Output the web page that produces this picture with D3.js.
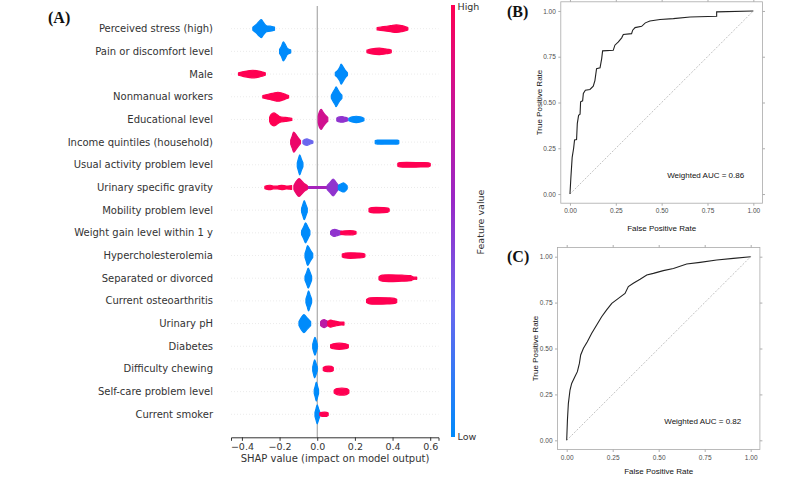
<!DOCTYPE html>
<html><head><meta charset="utf-8">
<script src="https://cdn.jsdelivr.net/npm/d3@7"></script>
<style>
html,body{margin:0;padding:0;background:#fff;}
svg{display:block;}
</style></head>
<body>
<svg id="chart" width="800" height="477"></svg>
<script>
// ---------------- DATA ----------------
const features = [
  "Perceived stress (high)","Pain or discomfort level","Male","Nonmanual workers",
  "Educational level","Income quintiles (household)","Usual activity problem level",
  "Urinary specific gravity","Mobility problem level","Weight gain level within 1 y",
  "Hypercholesterolemia","Separated or divorced","Current osteoarthritis","Urinary pH",
  "Diabetes","Difficulty chewing","Self-care problem level","Current smoker"
];
// per feature: clusters of SHAP values; c = feature value (0 low .. 1 high),
// p = [shap value, relative point density]
const swarmProfiles = [
  [ {c:0, p:[[-0.342,1.5],[-0.325,4],[-0.31,7],[-0.297,9],[-0.285,6],[-0.27,3],[-0.25,2.5],[-0.227,1.5]]},
    {c:1, p:[[0.318,1.2],[0.35,2],[0.39,3],[0.42,3.8],[0.45,3],[0.47,2],[0.481,1.2]]} ],
  [ {c:0, p:[[-0.2,2],[-0.19,5],[-0.18,9.5],[-0.17,7],[-0.158,3],[-0.141,1.5]]},
    {c:1, p:[[0.264,1.2],[0.29,2.5],[0.331,3.2],[0.36,2.5],[0.38,2],[0.393,1.2]]} ],
  [ {c:1, p:[[-0.418,1.2],[-0.39,2.5],[-0.36,3.5],[-0.342,3.8],[-0.31,3],[-0.29,2],[-0.276,1.2]]},
    {c:0, p:[[0.096,1.5],[0.11,4],[0.12,7],[0.127,10],[0.135,8],[0.148,4],[0.16,1.5]]} ],
  [ {c:1, p:[[-0.289,1.2],[-0.26,2.5],[-0.235,3.5],[-0.209,4.5],[-0.185,3.5],[-0.165,2],[-0.152,1.2]]},
    {c:0, p:[[0.075,1.5],[0.085,5],[0.095,8],[0.1,10],[0.11,7],[0.12,4],[0.131,1.5]]} ],
  [ {c:1, p:[[-0.253,2],[-0.245,5],[-0.23,6.5],[-0.215,5],[-0.2,3],[-0.17,2],[-0.15,1.5],[-0.135,1]]},
    {c:0.8, p:[[0.005,3],[0.012,8],[0.021,10],[0.032,7],[0.045,4],[0.056,2]]},
    {c:0.5, p:[[0.104,1.5],[0.118,2.5],[0.133,2.8],[0.15,2],[0.163,1.2]]},
    {c:0, p:[[0.168,1.2],[0.185,2.5],[0.207,3.2],[0.23,2.5],[0.248,1.2]]} ],
  [ {c:0.92, p:[[-0.141,2],[-0.133,6],[-0.125,10],[-0.115,8],[-0.1,4],[-0.089,1.5]]},
    {c:0.3, p:[[-0.076,1.5],[-0.065,2.8],[-0.054,3.2],[-0.04,2.2],[-0.023,1]]},
    {c:0, p:[[0.308,1.5],[0.32,2],[0.4,2],[0.425,2],[0.433,1.5]]} ],
  [ {c:0, p:[[-0.106,2],[-0.1,6],[-0.093,10],[-0.085,6],[-0.076,2]]},
    {c:1, p:[[0.428,1.5],[0.44,2.2],[0.55,2.2],[0.59,2],[0.6,1.2]]} ],
  [ {c:1, p:[[-0.278,1.2],[-0.265,2],[-0.251,2.2],[-0.235,1.5],[-0.21,1.4],[-0.189,2.2],[-0.165,1.5],[-0.136,2]]},
    {c:0.6, p:[[-0.06,0.9],[0.0,0.9],[0.058,0.9]]},
    {c:0.92, p:[[-0.124,2],[-0.112,6],[-0.097,9],[-0.085,7],[-0.07,4],[-0.053,2]]},
    {c:0.5, p:[[0.053,2],[0.068,5],[0.085,8.5],[0.1,5],[0.112,2]]},
    {c:0, p:[[0.112,2],[0.125,3.5],[0.142,4.5],[0.152,3],[0.159,1.5]]} ],
  [ {c:0, p:[[-0.083,2],[-0.076,6],[-0.069,9.5],[-0.061,6],[-0.053,2]]},
    {c:1, p:[[0.275,1.5],[0.29,2.5],[0.35,2.5],[0.375,2],[0.382,1.2]]} ],
  [ {c:0, p:[[-0.083,2],[-0.072,6],[-0.062,10],[-0.05,6],[-0.039,2]]},
    {c:0.5, p:[[0.071,1.5],[0.082,3],[0.094,3.5],[0.11,2.5],[0.13,1.5]]},
    {c:1, p:[[0.125,1.5],[0.15,2],[0.19,2],[0.206,1.2]]} ],
  [ {c:0, p:[[-0.065,2],[-0.058,6],[-0.051,10],[-0.038,6],[-0.024,2]]},
    {c:1, p:[[0.133,1.5],[0.15,2.5],[0.22,2.5],[0.245,2],[0.253,1.2]]} ],
  [ {c:0, p:[[-0.065,2],[-0.056,6],[-0.048,10],[-0.038,6],[-0.03,2]]},
    {c:1, p:[[0.328,1.5],[0.345,3],[0.45,3],[0.495,2.5],[0.507,1.5],[0.518,1],[0.528,1.2]]} ],
  [ {c:0, p:[[-0.06,2],[-0.053,6],[-0.046,10],[-0.038,6],[-0.03,2]]},
    {c:1, p:[[0.262,1.5],[0.28,3],[0.38,3],[0.41,2.5],[0.422,1.5]]} ],
  [ {c:0, p:[[-0.097,2],[-0.085,6],[-0.071,9],[-0.055,6],[-0.035,2]]},
    {c:0.7, p:[[0.018,2],[0.028,3.5],[0.037,4],[0.048,3],[0.058,2]]},
    {c:1, p:[[0.056,2],[0.066,3.3],[0.073,3.5],[0.085,2.8],[0.094,2.5],[0.12,1.5],[0.142,1.5]]} ],
  [ {c:0, p:[[-0.024,2],[-0.018,6],[-0.012,9],[-0.006,6],[0.0,2]]},
    {c:1, p:[[0.071,1.5],[0.085,2.5],[0.15,2.5],[0.165,1.5]]} ],
  [ {c:0, p:[[-0.024,2],[-0.019,6],[-0.014,9],[-0.007,6],[0.0,2]]},
    {c:1, p:[[0.032,1.5],[0.045,2.5],[0.075,2.5],[0.085,1.5]]} ],
  [ {c:0, p:[[-0.016,2],[-0.01,6],[-0.005,9.5],[0.001,6],[0.007,2]]},
    {c:1, p:[[0.09,1.5],[0.105,3],[0.155,3],[0.168,1.5]]} ],
  [ {c:0, p:[[-0.012,2],[-0.006,6],[0.0,9.5],[0.008,5],[0.014,2]]},
    {c:1, p:[[0.014,1.5],[0.025,2],[0.05,2],[0.058,1.2]]} ]
];
const shapTicks = [-0.4,-0.2,0.0,0.2,0.4,0.6];

// ROC curves (false positive rate, true positive rate)
const rocB = [[0,0],[0.005,0.09],[0.012,0.2],[0.02,0.25],[0.025,0.295],[0.036,0.298],[0.04,0.385],
  [0.047,0.43],[0.055,0.436],[0.058,0.504],[0.069,0.509],[0.073,0.549],[0.084,0.567],[0.109,0.571],
  [0.127,0.589],[0.136,0.62],[0.145,0.685],[0.164,0.689],[0.173,0.74],[0.178,0.782],[0.236,0.785],
  [0.245,0.813],[0.264,0.831],[0.282,0.853],[0.291,0.871],[0.336,0.876],[0.342,0.895],[0.355,0.909],
  [0.391,0.916],[0.411,0.935],[0.436,0.945],[0.491,0.953],[0.564,0.958],[0.655,0.967],[0.8,0.971],
  [0.8,0.995],[1,1]];
const rocC = [[0,0],[0.004,0.111],[0.009,0.2],[0.018,0.274],[0.027,0.31],[0.045,0.347],[0.058,0.374],
  [0.069,0.419],[0.076,0.465],[0.091,0.501],[0.112,0.537],[0.136,0.583],[0.163,0.628],[0.19,0.673],
  [0.217,0.71],[0.245,0.746],[0.281,0.773],[0.317,0.8],[0.335,0.837],[0.362,0.855],[0.399,0.877],
  [0.435,0.9],[0.471,0.909],[0.525,0.924],[0.58,0.936],[0.652,0.96],[0.725,0.969],[0.815,0.982],
  [0.906,0.991],[1,1]];
const rocTicks = [0,0.25,0.5,0.75,1];
const aucLabels = ["Weighted AUC = 0.86","Weighted AUC = 0.82"];

// ---------------- DRAW ----------------
const svg = d3.select("#chart");
const SANS = "'DejaVu Sans', sans-serif";

const colorScale = d3.scaleLinear()
  .domain([0,0.3,0.55,0.8,1])
  .range(["#008bfb","#6a66ee","#9a27c6","#d0118f","#ff0052"])
  .interpolate(d3.interpolateRgb);

const x = d3.scaleLinear().domain([-0.458,0.644]).range([231,438.5]);
const y = d3.scalePoint().domain(features).range([28.7,414.3]);
const dens = d3.scaleLinear().domain([0,10]).range([0,10]);

// faint row lines
svg.append("g").selectAll("line").data(features).join("line")
  .attr("x1",231).attr("x2",438.5)
  .attr("y1",d=>y(d)).attr("y2",d=>y(d))
  .attr("stroke","#e6e6e6").attr("stroke-width",0.8).attr("stroke-dasharray","1,2");

// zero line
svg.append("line").attr("x1",x(0)).attr("x2",x(0)).attr("y1",6).attr("y2",437.3)
  .attr("stroke","#999").attr("stroke-width",1);

// swarms
const area = d3.area().curve(d3.curveCatmullRom.alpha(0.5));
features.forEach((f,i)=>{
  const cy = y(f);
  swarmProfiles[i].forEach(b=>{
    svg.append("path")
      .attr("d", area.x(d=>x(d[0])).y0(d=>cy-dens(d[1])).y1(d=>cy+dens(d[1]))(b.p))
      .attr("fill", colorScale(b.c))
      .attr("stroke", colorScale(b.c)).attr("stroke-width",1.2).attr("stroke-linejoin","round");
  });
});

// feature labels
svg.append("g").selectAll("text").data(features).join("text")
  .attr("x",213).attr("y",d=>y(d)).attr("dy","0.35em").attr("text-anchor","end")
  .attr("font-family",SANS).attr("font-size",10).attr("fill","#333").text(d=>d);

// x axis
const xa = svg.append("g").attr("transform","translate(0,437.3)")
  .call(d3.axisBottom(x).tickValues(shapTicks).tickFormat(d3.format(".1f")).tickSize(3.5).tickPadding(2));
xa.select(".domain").attr("stroke","#333");
xa.selectAll(".tick line").attr("stroke","#333");
xa.selectAll("text").attr("font-family",SANS).attr("font-size",9.5).attr("fill","#333");
svg.append("text").attr("x",335).attr("y",458.3).attr("dy","0.35em").attr("text-anchor","middle")
  .attr("font-family",SANS).attr("font-size",10).attr("fill","#333")
  .text("SHAP value (impact on model output)");

// colorbar
const grad = svg.append("defs").append("linearGradient").attr("id","cbar")
  .attr("x1",0).attr("x2",0).attr("y1",1).attr("y2",0);
d3.range(0,1.0001,0.05).forEach(t=>grad.append("stop").attr("offset",t).attr("stop-color",colorScale(t)));
svg.append("rect").attr("x",451).attr("y",5).attr("width",4).attr("height",432).attr("fill","url(#cbar)");
svg.append("text").attr("x",457.5).attr("y",7).attr("dy","0.35em").attr("font-family",SANS)
  .attr("font-size",9.5).attr("fill","#333").text("High");
svg.append("text").attr("x",457.5).attr("y",437).attr("dy","0.35em").attr("font-family",SANS)
  .attr("font-size",9.5).attr("fill","#333").text("Low");
svg.append("text").attr("transform","translate(481,222) rotate(-90)").attr("dy","0.35em")
  .attr("text-anchor","middle").attr("font-family",SANS).attr("font-size",9.5).attr("fill","#333")
  .text("Feature value");

// panel labels
const SERIF = "'Liberation Serif','Times New Roman',serif";
[["(A)",48,23],["(B)",507,17],["(C)",507,262]].forEach(([t,px,py])=>{
  svg.append("text").attr("x",px).attr("y",py).attr("font-family",SERIF).attr("font-weight","bold")
    .attr("font-size",16).attr("fill","#111").text(t);
});

// ROC panels
function rocPanel(data, box, auc){
  const sx = d3.scaleLinear().domain([-0.05,1.05]).range([box.l,box.r]);
  const sy = d3.scaleLinear().domain([-0.05,1.05]).range([box.b,box.t]);
  const g = svg.append("g");
  const fmt = d3.format(".2f");
  const style = sel => {
    sel.select(".domain").remove();
    sel.selectAll(".tick line").attr("stroke","#777").attr("stroke-width",0.6);
    sel.selectAll("text").attr("font-family","'Liberation Sans',Arial,sans-serif")
      .attr("font-size",6.5).attr("fill","#4d4d4d");
  };
  g.append("g").attr("transform",`translate(0,${box.b})`)
    .call(d3.axisBottom(sx).tickValues(rocTicks).tickFormat(fmt).tickSize(2.5).tickPadding(3)).call(style);
  g.append("g").attr("transform",`translate(${box.l},0)`)
    .call(d3.axisLeft(sy).tickValues(rocTicks).tickFormat(fmt).tickSize(2.5).tickPadding(2.5)).call(style);
  g.append("g").attr("transform",`translate(0,${box.t})`)
    .call(d3.axisTop(sx).tickValues(rocTicks).tickFormat("").tickSize(2.5)).call(style);
  g.append("g").attr("transform",`translate(${box.r},0)`)
    .call(d3.axisRight(sy).tickValues(rocTicks).tickFormat("").tickSize(2.5)).call(style);
  g.append("rect").attr("x",box.l).attr("y",box.t).attr("width",box.r-box.l).attr("height",box.b-box.t)
    .attr("fill","none").attr("stroke","#aaa").attr("stroke-width",0.8);
  g.append("line").attr("x1",sx(0)).attr("y1",sy(0)).attr("x2",sx(1)).attr("y2",sy(1))
    .attr("stroke","#999").attr("stroke-width",0.6).attr("stroke-dasharray","2,1.5");
  g.append("path").attr("d", d3.line().x(d=>sx(d[0])).y(d=>sy(d[1]))(data))
    .attr("fill","none").attr("stroke","#222").attr("stroke-width",1.1);
  g.append("text").attr("x",sx(0.5)).attr("y",box.b+box.titleOff).attr("dy","0.35em").attr("text-anchor","middle")
    .attr("font-family","'Liberation Sans',Arial,sans-serif").attr("font-size",8).attr("fill","#111")
    .text("False Positive Rate");
  g.append("text").attr("transform",`translate(${box.l-22},${sy(0.5)}) rotate(-90)`).attr("dy","0.35em")
    .attr("text-anchor","middle").attr("font-family","'Liberation Sans',Arial,sans-serif")
    .attr("font-size",8).attr("fill","#111").text("True Positive Rate");
  g.append("text").attr("x",sx(0.53)).attr("y",sy(0.105)).attr("dy","0.35em")
    .attr("font-family","'Liberation Sans',Arial,sans-serif").attr("font-size",8).attr("fill","#111")
    .text(auc);
}
rocPanel(rocB, {l:560.8,r:762.5,t:1.8,b:203.2,titleOff:25}, aucLabels[0]);
rocPanel(rocC, {l:557.5,r:759.9,t:247.5,b:449.5,titleOff:21.5}, aucLabels[1]);
</script>
</body></html>
